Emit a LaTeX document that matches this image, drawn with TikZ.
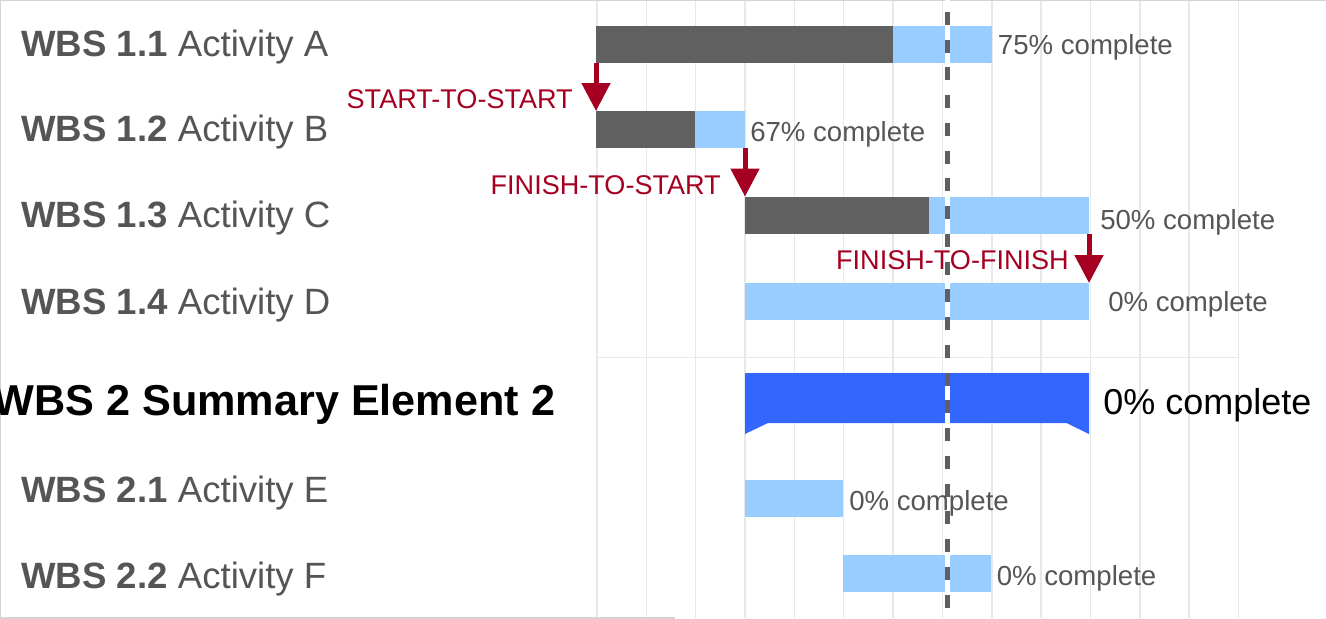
\documentclass[tikz,border=0pt]{standalone}
\usepackage{fontspec}
\setmainfont{Liberation Sans}
\usetikzlibrary{arrows.meta}
\definecolor{barDone}{HTML}{606060}
\definecolor{barTodo}{HTML}{99CCFF}
\definecolor{barSum}{HTML}{3366FF}
\definecolor{gridGray}{HTML}{E8E8E8}
\definecolor{frameGray}{HTML}{D4D4D4}
\definecolor{txtGray}{HTML}{555555}
\definecolor{depRed}{HTML}{A50021}
\definecolor{todayGray}{HTML}{5F5F5F}
\tikzset{
  bar/.style={inner sep=0pt, outer sep=0pt, minimum height=27.75pt, anchor=west},
  todo/.style={bar, fill=barTodo},
  done/.style={bar, fill=barDone},
  rowlabel/.style={anchor=base west, inner sep=0pt, text=txtGray, font=\fontsize{27.45}{30}\selectfont},
  pct/.style={anchor=base west, inner sep=0pt, text=txtGray, font=\fontsize{20.7}{24}\selectfont},
  deplabel/.style={anchor=base east, inner sep=0pt, text=depRed, font=\fontsize{20.3}{23}\selectfont},
  dep/.style={depRed, line width=3.75pt, -{Triangle[length=21pt,width=21pt]}},
}
\begin{document}
\begin{tikzpicture}[x=0.75pt, y=-0.75pt]
\useasboundingbox (0,0) rectangle (1326,618);
% grid
\foreach \k in {0,...,13}
{
    \draw[gridGray, line width=1.1pt] ({597+49.35*\k},0)--({597+49.35*\k},618);
}
\draw[gridGray, line width=1.1pt] (597,357.5)--(1238.5,357.5);
\draw[frameGray, line width=1.2pt] (675,618)--(0,618)--(0,0)--(1326,0);

% bars
\node[todo, minimum width={396*0.75pt}] (barA) at (596,44.5){};
\node[done, minimum width={296.7*0.75pt}] (doneA) at (barA.west){};
\node[todo, minimum width={149*0.75pt}] (barB) at (596,129.5){};
\node[done, minimum width={99*0.75pt}] (doneB) at (barB.west){};
\node[todo, minimum width={344*0.75pt}] (barC) at (745,215){};
\node[done, minimum width={184*0.75pt}] (doneC) at (barC.west){};
\node[todo, minimum width={344*0.75pt}] (barD) at (745,301.5){};
\fill[barSum] (745,373)--(1089,373)--(1089,434)--(1066.5,423)--(768,423)--(745,434)--cycle;
\node[todo, minimum width={98.4*0.75pt}] (barE) at (745,498.3){};
\node[todo, minimum width={148*0.75pt}] (barF) at (843,573){};

% today line
\draw[white, line width=3.75pt] (947.5,0)--(947.5,618);
\draw[todayGray, line width=3.2pt, dash pattern=on 9.75pt off 11.06pt] (947.5,12)--(947.5,618);

% row labels
\node[rowlabel] (lblA) at (21,56){\textbf{WBS 1.1} Activity A};
\node[rowlabel] (lblB) at (21,141.7){\textbf{WBS 1.2} Activity B};
\node[rowlabel] (lblC) at (21,227.7){\textbf{WBS 1.3} Activity C};
\node[rowlabel] (lblD) at (21,314){\textbf{WBS 1.4} Activity D};
\node[anchor=base east, inner sep=0pt, font=\fontsize{32.4}{36}\selectfont\bfseries] (lblSum) at (555.5,415.7){WBS 2 Summary Element 2};
\node[rowlabel] (lblE) at (21,502.3){\textbf{WBS 2.1} Activity E};
\node[rowlabel] (lblF) at (21,588.3){\textbf{WBS 2.2} Activity F};

% percentages
\node[pct] (pctA) at (997.7,54.3){75\% complete};
\node[pct] (pctB) at (750,141.7){67\% complete};
\node[pct] (pctC) at (1100,229){50\% complete};
\node[pct] (pctD) at (1108,311.7){0\% complete};
\node[anchor=base west, inner sep=0pt, font=\fontsize{27}{30}\selectfont] (pctSum) at (1103,414){0\% complete};
\node[pct] (pctE) at (849,510){0\% complete};
\node[pct] (pctF) at (996.5,585){0\% complete};

% dependencies
\draw[dep] (barA.south west)--(barB.north west);
\draw[dep] (barB.south east)--(barC.north west);
\draw[dep] (barC.south east)--(barD.north east);
\node[deplabel] (depSS) at (573,108.3){START-TO-START};
\node[deplabel] (depFS) at (721,194){FINISH-TO-START};
\node[deplabel] (depFF) at (1069,269){FINISH-TO-FINISH};
\end{tikzpicture}
\end{document}
